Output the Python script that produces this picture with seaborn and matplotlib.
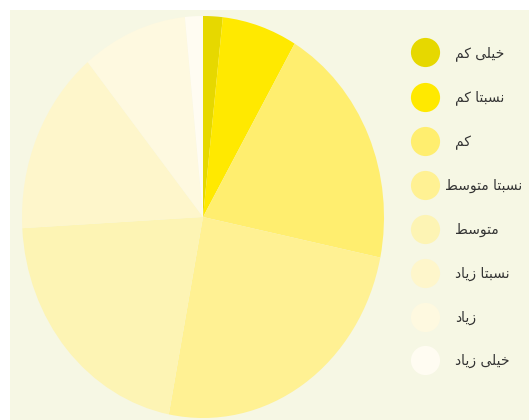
import matplotlib
matplotlib.use("Agg")
import matplotlib.pyplot as plt
from matplotlib.patches import Rectangle
from matplotlib.lines import Line2D
from matplotlib.transforms import Affine2D
import seaborn as sns

# ---- data ----
categories = ["خیلی کم", "نسبتا کم", "کم", "نسبتا متوسط", "متوسط", "نسبتا زیاد", "زیاد", "خیلی زیاد"]
values = [1.75, 6.7, 19.8, 24.8, 21.1, 14.9, 9.4, 1.6]
colors = ["#e6d800", "#ffe900", "#ffee6f", "#fff193", "#fdf4b4", "#fef6cb", "#fef9e0", "#fffcf2"]

# ---- simple Arabic/Persian shaping (matplotlib has no complex text layout) ----
FORMS = {
    'ا': ('\uFE8D', '\uFE8E', None, None),
    'ب': ('\uFE8F', '\uFE90', '\uFE91', '\uFE92'),
    'ت': ('\uFE95', '\uFE96', '\uFE97', '\uFE98'),
    'خ': ('\uFEA5', '\uFEA6', '\uFEA7', '\uFEA8'),
    'د': ('\uFEA9', '\uFEAA', None, None),
    'ز': ('\uFEAF', '\uFEB0', None, None),
    'س': ('\uFEB1', '\uFEB2', '\uFEB3', '\uFEB4'),
    'ط': ('\uFEC1', '\uFEC2', '\uFEC3', '\uFEC4'),
    'ل': ('\uFEDD', '\uFEDE', '\uFEDF', '\uFEE0'),
    'م': ('\uFEE1', '\uFEE2', '\uFEE3', '\uFEE4'),
    'ن': ('\uFEE5', '\uFEE6', '\uFEE7', '\uFEE8'),
    'و': ('\uFEED', '\uFEEE', None, None),
    'ک': ('\uFB8E', '\uFB8F', '\uFB90', '\uFB91'),
    'ی': ('\uFBFC', '\uFBFD', '\uFBFE', '\uFBFF'),
}


def shape(text):
    out = []
    n = len(text)
    for i, ch in enumerate(text):
        if ch not in FORMS:
            out.append(ch)
            continue
        prev = text[i - 1] if i > 0 else ''
        nxt = text[i + 1] if i < n - 1 else ''
        jp = prev in FORMS and FORMS[prev][2] is not None
        jn = FORMS[ch][2] is not None and nxt in FORMS
        iso, fin, ini, med = FORMS[ch]
        if jp and jn:
            out.append(med)
        elif jp:
            out.append(fin)
        elif jn:
            out.append(ini)
        else:
            out.append(iso)
    return ''.join(out)[::-1]


sns.set_theme(style="white")
plt.rcParams['font.family'] = ['DejaVu Sans']

W, H = 529, 420
fig = plt.figure(figsize=(W / 100, H / 100), dpi=100)
fig.patch.set_facecolor("white")
fig.patches.append(Rectangle((10 / W, 0), 1 - 10 / W, 1 - 10 / H, transform=fig.transFigure,
                             facecolor="#f6f7e4", edgecolor="none", zorder=-10))

# pie axes spanning the ellipse bounding box
cx, cy, rx, ry = 203, 217, 181, 201
ax = fig.add_axes([(cx - rx) / W, (H - cy - ry) / H, 2 * rx / W, 2 * ry / H])
ax.set_zorder(5)
ax.patch.set_alpha(0)
wedges, _ = ax.pie(values, colors=colors, startangle=90, counterclock=False,
                   wedgeprops=dict(linewidth=0, edgecolor="none", antialiased=True))
ax.set_aspect("auto")
ax.set_xlim(-1, 1)
ax.set_ylim(-1, 1)
ax.axis("off")

handles = [Line2D([], [], linestyle="none", marker="o", markersize=21,
                  markerfacecolor=c, markeredgecolor="none") for c in colors]
labels = [shape(c) for c in categories]
fs = 10
leg = fig.legend(handles, labels, loc="upper left",
                 bbox_to_anchor=(411 / W, 1 - 46 / H), frameon=False,
                 fontsize=fs, handlelength=2.0, handletextpad=1.16,
                 borderpad=0, borderaxespad=0, labelspacing=2.13)
leg.set_zorder(6)
for i, t in enumerate(leg.get_texts()):
    t.set_color("#333333")
    if categories[i] == "نسبتا متوسط":
        t.set_transform(t.get_transform() + Affine2D().translate(-10, 0))

fig.savefig("out.png", dpi=100)
